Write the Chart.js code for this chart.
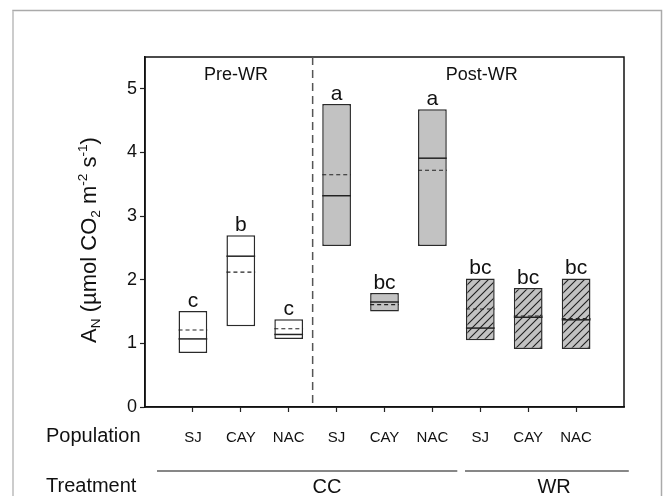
<!DOCTYPE html>
<html>
<head>
<meta charset="utf-8">
<script src="https://cdn.jsdelivr.net/npm/chart.js@4/dist/chart.umd.min.js"></script>
<style>
  html, body { margin: 0; padding: 0; background: #fff; }
  #wrap { width: 663px; height: 496px; }
</style>
</head>
<body>
<div id="wrap"><canvas id="chart" width="663" height="496"></canvas></div>
<script>
// populations on the x axis, one box per population/period
const populations = ["SJ", "CAY", "NAC", "SJ", "CAY", "NAC", "SJ", "CAY", "NAC"];
const boxLow  = [0.85, 1.27, 1.07, 2.53, 1.50, 2.53, 1.05, 0.91, 0.91];
const boxHigh = [1.51, 2.70, 1.38, 4.76, 1.79, 4.68, 2.02, 1.87, 2.02];
const medians = [1.07, 2.37, 1.14, 3.32, 1.65, 3.91, 1.24, 1.41, 1.37];
const means   = [1.21, 2.12, 1.23, 3.65, 1.61, 3.72, 1.54, 1.43, 1.39];
const letters = ["c", "b", "c", "a", "bc", "a", "bc", "bc", "bc"];
const groups  = ["pre", "pre", "pre", "cc", "cc", "cc", "wr", "wr", "wr"];
const yTicks  = [0, 1, 2, 3, 4, 5];

const FONT = "'Liberation Sans', Arial, sans-serif";

// hatched fill for the WR boxes
function makeHatch() {
    const tile = document.createElement("canvas");
    tile.width = 8; tile.height = 8;
    const t = tile.getContext("2d");
    t.fillStyle = "#c2c2c2";
    t.fillRect(0, 0, 8, 8);
    t.strokeStyle = "#1e1e1e";
    t.lineWidth = 1.1;
    t.beginPath();
    t.moveTo(0, 8); t.lineTo(8, 0);
    t.moveTo(-1, 1); t.lineTo(1, -1);
    t.moveTo(7, 9); t.lineTo(9, 7);
    t.stroke();
    return t.createPattern(tile, "repeat");
}
const hatch = makeHatch();

const fills = groups.map(g => g === "pre" ? "#ffffff" : g === "cc" ? "#c2c2c2" : hatch);

// pad the axis with an empty slot on each side
const labels = ["", ...populations, ""];
const pad = arr => [null, ...arr, null];
const boxes = pad(boxLow.map((lo, i) => [lo, boxHigh[i]]));

function richText(ctx, parts, size) {
    // measure segments with sub/superscripts
    let w = 0;
    parts.forEach(p => {
        const s = p.sub || p.sup ? size * 0.62 : size;
        ctx.font = s + "px " + FONT;
        p.w = ctx.measureText(p.t).width;
        p.s = s;
        w += p.w;
    });
    return w;
}

const extras = {
    id: "extras",
    beforeDraw(chart) {
        const ctx = chart.ctx;
        ctx.save();
        ctx.fillStyle = "#fff";
        ctx.fillRect(0, 0, chart.width, chart.height);
        // outer figure frame
        ctx.strokeStyle = "#aaaaaa";
        ctx.lineWidth = 1.5;
        ctx.beginPath();
        ctx.moveTo(13, 496); ctx.lineTo(13, 10.5); ctx.lineTo(661.5, 10.5); ctx.lineTo(661.5, 496);
        ctx.stroke();
        ctx.strokeStyle = "#cccccc";
        ctx.lineWidth = 2;
        ctx.beginPath();
        ctx.moveTo(13, 11); ctx.lineTo(13, 496);
        ctx.stroke();
        ctx.restore();
    },
    afterDatasetsDraw(chart) {
        const ctx = chart.ctx;
        const a = chart.chartArea;
        const x = chart.scales.x, y = chart.scales.y;
        const meta = chart.getDatasetMeta(0);
        ctx.save();

        // median (solid) and mean (dashed) inside each box
        populations.forEach((p, i) => {
            const bar = meta.data[i + 1];
            const half = bar.width / 2;
            ctx.strokeStyle = "#222";
            ctx.lineWidth = 1.5;
            ctx.setLineDash([]);
            let yy = y.getPixelForValue(medians[i]);
            ctx.beginPath(); ctx.moveTo(bar.x - half, yy); ctx.lineTo(bar.x + half, yy); ctx.stroke();
            ctx.lineWidth = 1.2;
            ctx.setLineDash([4, 3]);
            yy = y.getPixelForValue(means[i]);
            ctx.beginPath(); ctx.moveTo(bar.x - half, yy); ctx.lineTo(bar.x + half, yy); ctx.stroke();
            ctx.setLineDash([]);

            // significance letters
            ctx.fillStyle = "#111";
            ctx.font = "21px " + FONT;
            ctx.textAlign = "center";
            ctx.textBaseline = "alphabetic";
            ctx.fillText(letters[i], bar.x, y.getPixelForValue(boxHigh[i]) - 4);
        });

        // plot box
        ctx.strokeStyle = "#111";
        ctx.lineWidth = 1.5;
        ctx.strokeRect(a.left, a.top, a.right - a.left, a.bottom - a.top);

        // pre / post divider
        const xd = x.getPixelForValue(3.5);
        ctx.strokeStyle = "#555";
        ctx.lineWidth = 1.5;
        ctx.setLineDash([8, 5]);
        ctx.beginPath(); ctx.moveTo(xd, a.top); ctx.lineTo(xd, a.bottom); ctx.stroke();
        ctx.setLineDash([]);

        ctx.fillStyle = "#111";
        ctx.font = "18px " + FONT;
        ctx.textAlign = "center";
        ctx.textBaseline = "middle";
        ctx.fillText("Pre-WR", x.getPixelForValue(1.9), 75);
        ctx.fillText("Post-WR", x.getPixelForValue(7.03), 75);

        // row headers and treatment bands
        ctx.font = "20px " + FONT;
        ctx.textAlign = "left";
        ctx.fillText("Population", 46, 436);
        ctx.fillText("Treatment", 46, 486);
        ctx.textAlign = "center";
        ctx.fillText("CC", x.getPixelForValue(3.8), 487);
        ctx.fillText("WR", x.getPixelForValue(8.54), 487);
        ctx.strokeStyle = "#111";
        ctx.lineWidth = 1.2;
        ctx.beginPath();
        ctx.moveTo(x.getPixelForValue(0.25), 471); ctx.lineTo(x.getPixelForValue(6.52), 471);
        ctx.moveTo(x.getPixelForValue(6.68), 471); ctx.lineTo(x.getPixelForValue(10.1), 471);
        ctx.stroke();

        // y axis title with sub/superscripts
        const parts = [
            { t: "A" }, { t: "N", sub: true }, { t: " (\u00b5mol CO" }, { t: "2", sub: true },
            { t: " m" }, { t: "-2", sup: true }, { t: " s" }, { t: "-1", sup: true }, { t: ")" }
        ];
        const size = 22;
        const w = richText(ctx, parts, size);
        ctx.translate(90, (a.top + a.bottom) / 2 + 8);
        ctx.rotate(-Math.PI / 2);
        ctx.textAlign = "left";
        ctx.textBaseline = "middle";
        let cx = -w / 2;
        parts.forEach(p => {
            ctx.font = p.s + "px " + FONT;
            const dy = p.sub ? size * 0.3 : p.sup ? -size * 0.32 : 0;
            ctx.fillText(p.t, cx, dy);
            cx += p.w;
        });
        ctx.restore();
    }
};

new Chart(document.getElementById("chart"), {
    type: "bar",
    data: {
        labels: labels,
        datasets: [{
            data: boxes,
            backgroundColor: pad(fills),
            borderColor: "#2a2a2a",
            borderWidth: 1.5,
            borderSkipped: false,
            barPercentage: 0.6,
            categoryPercentage: 1.0
        }]
    },
    options: {
        responsive: false,
        animation: false,
        layout: { padding: { top: 57, right: 39, left: 0, bottom: 0 } },
        plugins: { legend: { display: false }, tooltip: { enabled: false } },
        scales: {
            x: {
                offset: false,
                afterFit: s => { s.height = 89; },
                grid: {
                    offset: false,
                    drawOnChartArea: false,
                    tickLength: 5,
                    tickColor: c => (c.index === 0 || c.index === labels.length - 1) ? "rgba(0,0,0,0)" : "#222",
                    tickWidth: 1.2
                },
                border: { display: true, color: "#111", width: 1.5 },
                ticks: {
                    autoSkip: false,
                    maxRotation: 0,
                    padding: 17,
                    color: "#111",
                    font: { family: FONT, size: 15 }
                }
            },
            y: {
                min: 0,
                max: 5.5,
                afterFit: s => { s.width = 145; },
                afterBuildTicks: s => { s.ticks = yTicks.map(v => ({ value: v })); },
                grid: { drawOnChartArea: false, tickLength: 5, tickColor: "#222", tickWidth: 1.2 },
                border: { display: true, color: "#111", width: 1.5 },
                ticks: {
                    padding: 3,
                    color: "#111",
                    font: { family: FONT, size: 18 }
                }
            }
        }
    },
    plugins: [extras]
});
</script>
</body>
</html>
